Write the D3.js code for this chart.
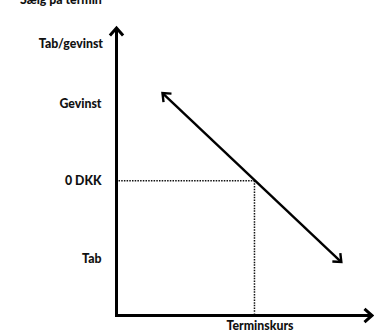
<!DOCTYPE html>
<html>
<head>
<meta charset="utf-8">
<script src="https://cdn.jsdelivr.net/npm/d3@7"></script>
<style>
  html, body { margin: 0; padding: 0; background: #fff; }
  svg { display: block; }
  text { font-family: Lato, "Open Sans", sans-serif; font-weight: 900; fill: #111; }
</style>
</head>
<body>
<svg id="chart" width="374" height="333"></svg>
<script>
// Payoff profile for selling a currency forward
const title = "Sælg på termin";
const yAxisTitle = "Tab/gevinst";
const xAxisTitle = "Terminskurs";
const yTickValues = [1, 0, -1];
const yTickLabels = ["Gevinst", "0 DKK", "Tab"];
const forwardRate = 54;
const payoffSpot = [18, 88];
const payoffValue = [1.13, -1.05];

const svg = d3.select("#chart");
const x = d3.scaleLinear().domain([0, 100]).range([116.5, 372]);
const y = d3.scaleLinear().domain([-1.74, 1.97]).range([315.5, 28]);
const fs = 12.3;

// Title (sits at the very top edge)
svg.append("text").attr("x", 20).attr("y", 4)
  .attr("font-size", fs).text(title);

// Y axis labels
const yAxis = d3.axisLeft(y).tickValues(yTickValues)
  .tickFormat((d, i) => yTickLabels[i]).tickSize(0).tickPadding(15);
const gy = svg.append("g").attr("transform", `translate(${x(0)},0)`).call(yAxis);
gy.select(".domain").remove();
gy.selectAll("text").attr("font-size", fs).attr("fill", "#111")
  .style("font-family", "Lato, 'Open Sans', sans-serif").style("font-weight", "900");

svg.append("text").attr("x", 103).attr("y", y(1.97) + 19.5)
  .attr("text-anchor", "end").attr("font-size", fs).text(yAxisTitle);

// Dotted guides at break-even
svg.append("line")
  .attr("x1", x(0) + 2).attr("x2", x(forwardRate))
  .attr("y1", y(0)).attr("y2", y(0))
  .attr("stroke", "#111").attr("stroke-width", 1.5).attr("stroke-dasharray", "1.5,1.2");
svg.append("line")
  .attr("x1", x(forwardRate)).attr("x2", x(forwardRate))
  .attr("y1", y(0)).attr("y2", y(-1.74) - 2)
  .attr("stroke", "#111").attr("stroke-width", 1.5).attr("stroke-dasharray", "1.5,1.2");

// Open chevron arrowhead at (tx,ty) pointing along angle
function chevron(tx, ty, angle, len, spread, w) {
  const a1 = angle + Math.PI - spread, a2 = angle + Math.PI + spread;
  const p = d3.path();
  p.moveTo(tx + len * Math.cos(a1), ty + len * Math.sin(a1));
  p.lineTo(tx, ty);
  p.lineTo(tx + len * Math.cos(a2), ty + len * Math.sin(a2));
  svg.append("path").attr("d", p.toString()).attr("fill", "none")
    .attr("stroke", "#000").attr("stroke-width", w)
    .attr("stroke-linejoin", "miter").attr("stroke-linecap", "butt");
}

// Axes
svg.append("path")
  .attr("d", `M${x(0)},${y(1.97) + 2}V${y(-1.74)}H${x(100) - 2}`)
  .attr("fill", "none").attr("stroke", "#000").attr("stroke-width", 3);
chevron(x(0), y(1.97), -Math.PI / 2, 10, 0.72, 3);
chevron(x(100), y(-1.74), 0, 10, 0.72, 3);

// Payoff line with arrows on both ends
const pts = payoffSpot.map((s, i) => [x(s), y(payoffValue[i])]);
svg.append("line")
  .attr("x1", pts[0][0]).attr("y1", pts[0][1])
  .attr("x2", pts[1][0]).attr("y2", pts[1][1])
  .attr("stroke", "#000").attr("stroke-width", 2.4);
const ang = Math.atan2(pts[1][1] - pts[0][1], pts[1][0] - pts[0][0]);
chevron(pts[1][0], pts[1][1], ang, 9, 0.7, 2.4);
chevron(pts[0][0], pts[0][1], ang + Math.PI, 9, 0.7, 2.4);

// X axis title
svg.append("text").attr("x", 260).attr("y", 330)
  .attr("text-anchor", "middle").attr("font-size", fs).text(xAxisTitle);
</script>
</body>
</html>
